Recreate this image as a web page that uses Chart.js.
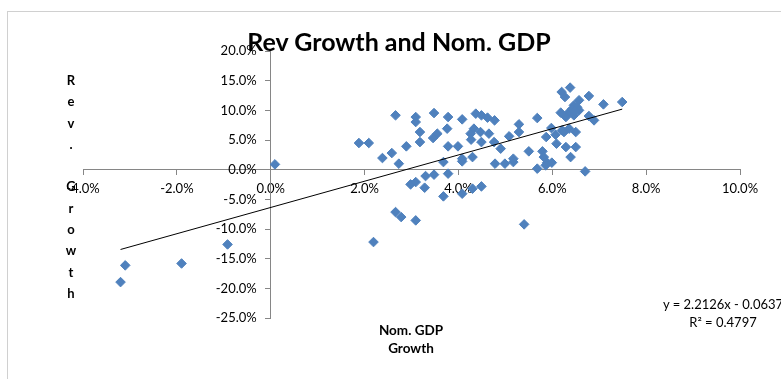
<!DOCTYPE html>
<html>
<head>
<meta charset="utf-8">
<script src="https://cdn.jsdelivr.net/npm/chart.js@4"></script>
<style>
  body { margin:0; background:#fff; }
  #wrap { position:relative; width:781px; height:379px; overflow:hidden; font-family:Lato, "Open Sans", sans-serif; }
  #frame { position:absolute; left:7px; top:11px; width:900px; height:500px; border:1px solid #d0d0d0; }
  canvas { position:absolute; left:0; top:0; }
  .txt { position:absolute; color:#000; white-space:nowrap; }
  #title { left:399px; top:26px; transform:translateX(-50%); font-weight:bold; font-size:25px; line-height:30px; }
  #ytitle { left:61px; top:70px; width:20px; text-align:center; font-weight:bold; font-size:13px; line-height:21.3px; }
  #xtitle { left:411px; top:322px; transform:translateX(-50%); text-align:center; font-weight:bold; font-size:13.5px; line-height:17.5px; }
  #eq { left:723px; top:296px; transform:translateX(-50%); text-align:center; font-size:13px; line-height:17.5px; }
</style>
</head>
<body>
<div id="wrap">
  <div id="frame"></div>
  <canvas id="rev" width="781" height="379"></canvas>
  <div class="txt" id="title">Rev Growth and Nom. GDP</div>
  <div class="txt" id="ytitle">R<br>e<br>v<br>.<br>&nbsp;<br>G<br>r<br>o<br>w<br>t<br>h</div>
  <div class="txt" id="xtitle">Nom. GDP<br>Growth</div>
  <div class="txt" id="eq">y = 2.2126x - 0.0637<br>R² = 0.4797</div>
</div>
<script>
// nominal GDP growth (%) and revenue growth (%)
const gdpGrowth = [-3.20,-3.10,-1.90,-0.92,2.19,0.09,1.88,2.09,2.38,2.58,
  2.66,2.66,2.73,3.09,3.09,3.48,3.78,4.08,4.37,4.49,
  4.62,4.77,5.29,3.18,3.76,3.55,3.46,4.33,4.47,4.65,
  4.26,4.27,4.49,4.76,5.08,5.29,3.18,2.89,3.78,3.99,
  4.90,4.08,4.30,3.68,4.08,4.78,4.99,5.17,5.17,3.30,
  3.48,3.78,2.98,3.09,3.28,3.68,4.08,4.30,4.49,2.78,
  3.09,5.40,6.38,6.20,6.27,6.78,7.09,7.49,6.46,6.53,
  6.18,6.36,6.29,6.46,6.78,6.89,5.68,5.98,6.21,6.36,
  6.50,5.87,6.07,6.09,6.29,6.50,5.50,5.79,5.82,6.39,
  5.89,5.99,5.68,5.86,6.70,6.57,6.42,6.57,6.48,6.25];
const revGrowth = [-18.95,-16.13,-15.81,-12.60,-12.20,0.89,4.49,4.49,1.96,2.80,
  9.16,-7.15,1.01,8.87,8.03,9.54,8.87,8.48,9.44,9.16,
  8.77,8.31,7.64,6.34,6.91,6.07,5.33,6.91,6.34,6.07,
  6.07,5.06,4.65,4.65,5.62,6.34,4.65,3.93,3.93,3.93,
  3.54,1.85,2.12,1.28,1.40,1.01,1.01,1.28,1.85,-1.08,
  -0.84,-0.67,-2.48,-2.09,-3.04,-4.50,-4.05,-3.20,-2.82,-7.99,
  -8.55,-9.22,13.83,13.09,12.24,12.41,11.01,11.40,10.84,10.51,
  9.61,9.71,8.87,9.16,9.04,8.31,8.70,7.02,6.63,6.91,
  6.34,5.50,5.90,4.38,3.81,3.81,3.09,3.09,2.12,2.12,
  1.18,1.18,0.17,0.73,-0.29,11.70,10.20,10.00,9.90,6.34];

// linear trendline from the chart: y = 2.2126x - 0.0637 (fractions)
const trendSlope = 2.2126;
const trendIntercept = -6.37;

const points = gdpGrowth.map((x, i) => ({x: x, y: revGrowth[i]}));
const minX = Math.min(...gdpGrowth), maxX = Math.max(...gdpGrowth);
const trend = [minX, maxX].map(x => ({x: x, y: trendSlope * x + trendIntercept}));

const axisGrey = '#868686';
const tickFont = {family: 'Lato', size: 13};
const pct = v => v.toFixed(1) + '%';

// y labels sit left of the zero line with a gap, chart.js puts them flush
const yLabels = {
  id: 'yLabels',
  afterDraw(chart) {
    const x = chart.scales.x.getPixelForValue(0);
    const ys = chart.scales.y;
    const ctx = chart.ctx;
    ctx.save();
    ctx.font = '13px Lato';
    ctx.fillStyle = '#000';
    ctx.textAlign = 'right';
    ctx.textBaseline = 'middle';
    ys.ticks.forEach(t => ctx.fillText(pct(t.value), x - 14, ys.getPixelForValue(t.value)));
    ctx.restore();
  }
};

new Chart(document.getElementById('rev').getContext('2d'), {
  type: 'scatter',
  data: {
    datasets: [{
      type: 'line',
      data: trend,
      borderColor: '#000',
      borderWidth: 1,
      pointRadius: 0
    }, {
      data: points,
      pointStyle: 'rectRot',
      pointRadius: 4.8,
      backgroundColor: '#4F81BD',
      borderColor: '#4F81BD',
      borderWidth: 1
    }]
  },
  options: {
    responsive: false,
    animation: false,
    layout: {padding: {left: 83, right: 41, top: 51, bottom: 61}},
    plugins: {legend: {display: false}, tooltip: {enabled: false}},
    scales: {
      x: {
        type: 'linear', min: -4, max: 10,
        position: {y: 0},
        afterFit: s => { s.height = 0; },
        ticks: {stepSize: 2, callback: pct, font: tickFont, color: '#000', padding: 6},
        grid: {drawOnChartArea: false, tickLength: 5, color: axisGrey},
        border: {color: axisGrey}
      },
      y: {
        type: 'linear', min: -25, max: 20,
        position: {x: 0},
        afterFit: s => { s.width = 0; },
        ticks: {stepSize: 5, display: false},
        grid: {drawOnChartArea: false, tickLength: 5, color: axisGrey},
        border: {color: axisGrey}
      }
    }
  },
  plugins: [yLabels]
});
</script>
</body>
</html>
